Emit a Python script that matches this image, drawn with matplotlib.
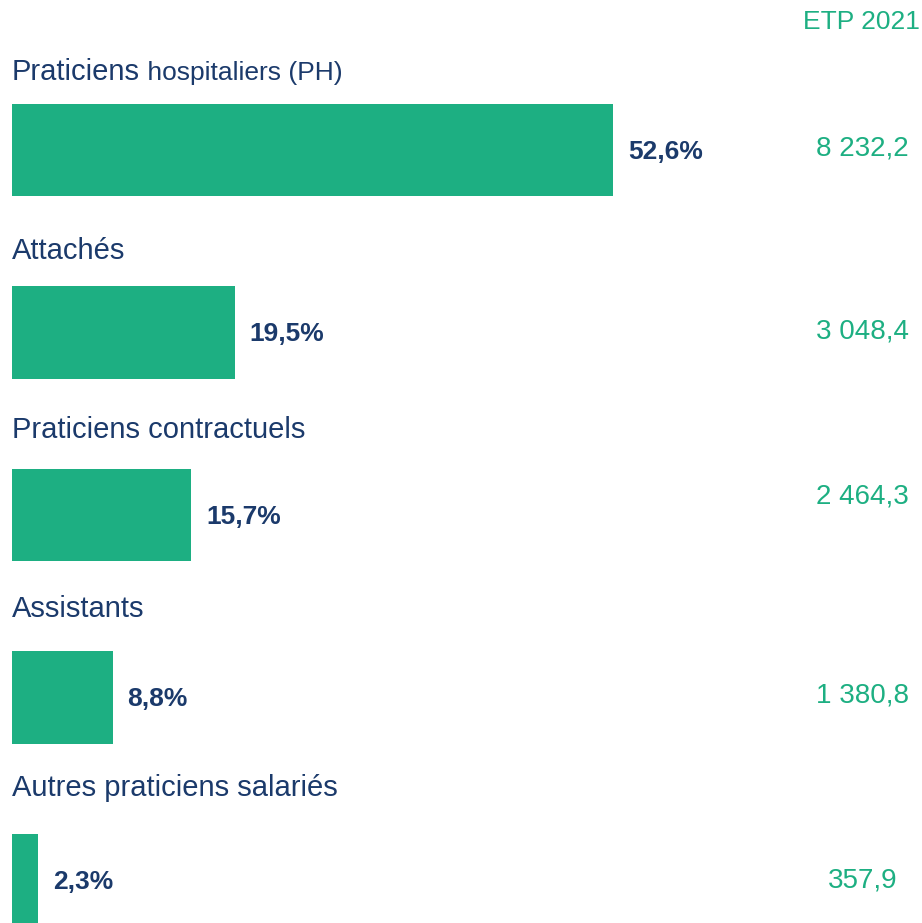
import matplotlib
matplotlib.use("Agg")
from matplotlib import pyplot as plt

# Données
categories = ["Praticiens", "Attachés", "Praticiens contractuels",
              "Assistants", "Autres praticiens salariés"]
suffixe_1 = " hospitaliers (PH)"
parts = [52.6, 19.5, 15.7, 8.8, 2.3]
etp = [8232.2, 3048.4, 2464.3, 1380.8, 357.9]
titre_etp = "ETP 2021"

vert = "#1DAF82"
marine = "#1B3A6B"
plt.rcParams["font.family"] = ["Liberation Sans", "DejaVu Sans"]


def fmt_pct(v):
    return f"{v:.1f}".replace(".", ",") + "%"


def fmt_etp(v):
    s = f"{v:,.1f}"
    return s.replace(",", " ").replace(".", ",")


fig = plt.figure(figsize=(9.22, 9.23), dpi=100)
# axe en pixels : debut des barres a x=12, 11.43 px par point de %
ax = fig.add_axes([12 / 922, 0, 910 / 922, 1])
ax.set_xlim(0, 910 / 11.43)
ax.set_ylim((923 - 150) / 182.5, -150 / 182.5)
ax.axis("off")

pos = list(range(len(categories)))
ax.barh(pos, parts, height=0.505, color=vert)

# petits decalages des valeurs ETP (comme sur l'original)
decal_y = [-0.01, -0.005, -0.1, -0.01, 0.0]
decal_x = [0, 0, 0, 0, -0.013]

labels = []
for i, (cat, p, e) in enumerate(zip(categories, parts, etp)):
    y_lab = (80 + i * 179 - 150) / 182.5
    t = ax.text(0, y_lab, cat, fontsize=21, color=marine, va="baseline", ha="left")
    labels.append(t)
    ax.text(p + 1.3, i + 0.01, fmt_pct(p), fontsize=19, fontweight="bold",
            color=marine, va="center", ha="left")
    ax.text(0.9857 + decal_x[i], i + decal_y[i], fmt_etp(e), fontsize=20, color=vert,
            va="center", ha="right", transform=ax.get_yaxis_transform())

ax.text(0.998, -128 / 182.5, titre_etp, fontsize=19, color=vert,
        va="center", ha="right", transform=ax.get_yaxis_transform())

# suite du premier libelle en plus petit
fig.canvas.draw()
bb = labels[0].get_window_extent()
x_suite = ax.transData.inverted().transform((bb.x1, 0))[0]
ax.text(x_suite, labels[0].get_position()[1], suffixe_1, fontsize=19,
        color=marine, va="baseline", ha="left")

fig.savefig("out.png", dpi=100)
